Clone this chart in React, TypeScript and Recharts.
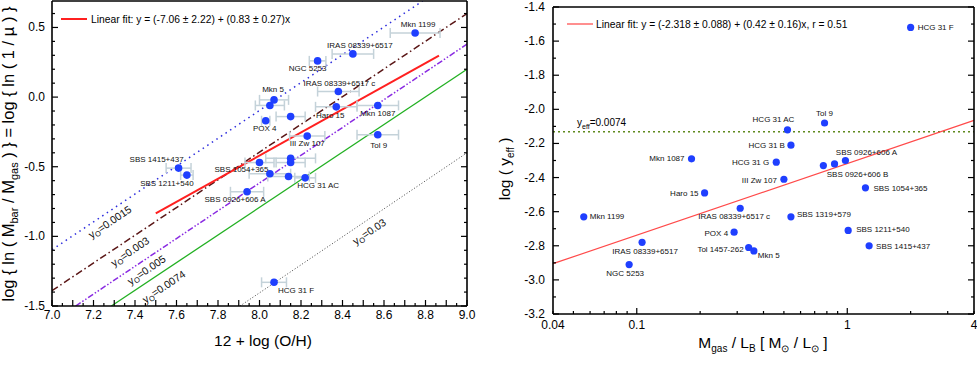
import React from 'react';
import { ScatterChart, Scatter, XAxis, YAxis, ErrorBar, ReferenceLine, ReferenceDot } from 'recharts';

const FONT = '"Liberation Sans", Arial, Helvetica, sans-serif';
const BLUE = '#1f3fff';
const ERR = '#c4d2d9';

// ---- left panel: 12 + log(O/H) vs log ln(1/mu) ----
const leftNames = [
  'Mkn 1199', 'IRAS 08339+6517', 'NGC 5253', 'IRAS 08339+6517 c', 'Mkn 5', '', 'Haro 15', 'Mkn 1087',
  'POX 4', '', 'III Zw 107', 'Tol 9', 'SBS 1415+437', 'SBS 1211+540', 'SBS 1054+365', '', '', '', '',
  'HCG 31 AC', 'SBS 0926+606 A', 'HCG 31 F',
];
const leftOH = [8.75, 8.45, 8.28, 8.38, 8.07, 8.05, 8.37, 8.57, 8.03, 8.15, 8.23, 8.57, 7.61, 7.65, 8.0, 8.15, 8.15, 8.05, 8.14, 8.22, 7.94, 8.07];
const leftLnMu = [0.46, 0.31, 0.26, 0.04, -0.02, -0.06, -0.07, -0.06, -0.17, -0.14, -0.28, -0.27, -0.51, -0.56, -0.47, -0.44, -0.47, -0.55, -0.57, -0.58, -0.68, -1.33];
const leftErr = [0.12, 0.1, 0.04, 0.1, 0.07, 0.07, 0.1, 0.1, 0.02, 0.07, 0.085, 0.1, 0.06, 0.03, 0.07, 0.12, 0.07, 0.1, 0.1, 0.05, 0.08, 0.06];

const leftFit = [{ x: 7.5, y: -0.835 }, { x: 8.865, y: 0.298 }];
const leftFitText = 'Linear fit: y = (-7.06 \u00b1 2.22) + (0.83 \u00b1 0.27)x';

// constant-yield lines y_O
const yOValues = ['0.0015', '0.003', '0.005', '0.0074', '0.03'];
const yOStart = [[7.0, -1.096], [7.0, -1.39], [7.114, -1.5], [7.286, -1.5], [7.906, -1.5]];
const yOEnd = [[8.786, 0.69], [9.0, 0.6], [9.0, 0.38], [9.0, 0.2], [9.0, -0.4]];

// ---- right panel: Mgas/LB vs log y_eff ----
const rightNames = [
  'Mkn 1087', 'HCG 31 F', 'Tol 9', 'HCG 31 AC', 'HCG 31 B', 'HCG 31 G', '', 'SBS 0926+606 B', 'SBS 0926+606 A',
  'III Zw 107', 'SBS 1054+365', 'IRAS 08339+6517 c', 'SBS 1319+579', 'POX 4', 'SBS 1211+540', 'Tol 1457-262',
  'Mkn 5', 'SBS 1415+437', 'Haro 15', 'Mkn 1199', 'IRAS 08339+6517', 'NGC 5253',
];
const rightMgasLB = [0.182, 2.0, 0.78, 0.52, 0.54, 0.46, 0.77, 0.87, 0.98, 0.5, 1.22, 0.31, 0.54, 0.29, 1.01, 0.34, 0.36, 1.27, 0.21, 0.056, 0.106, 0.092];
const rightLogY = [-2.29, -1.52, -2.08, -2.12, -2.21, -2.31, -2.33, -2.32, -2.3, -2.41, -2.46, -2.58, -2.63, -2.72, -2.71, -2.81, -2.83, -2.8, -2.49, -2.63, -2.78, -2.91];

const rightFit = [{ x: 0.04, y: -2.905 }, { x: 4, y: -2.065 }];
const rightFitText = 'Linear fit: y = (-2.318 \u00b1 0.088) + (0.42 \u00b1 0.16)x, r = 0.51';
const yEffLevel = -2.1308;

// ---- ticks ----
const steps = (a: number, b: number, s: number) => {
  const out: number[] = [];
  for (let v = a; v <= b + 1e-9; v += s) out.push(Math.round(v * 1000) / 1000);
  return out;
};
const leftXTicks = steps(7, 9, 0.05);
const leftXMajor = steps(7, 9, 0.1);
const leftXLabels = steps(7, 9, 0.2);
const leftYTicks = steps(-1.5, 0.6, 0.1);
const leftYLabels = [-1.5, -1.0, -0.5, 0.0, 0.5];
const rightYTicks = steps(-3.2, -1.4, 0.1);
const rightYLabels = steps(-3.2, -1.4, 0.2);
const rightXTicks = [0.04, 0.05, 0.06, 0.07, 0.08, 0.09, 0.1, 0.2, 0.3, 0.4, 0.5, 0.6, 0.7, 0.8, 0.9, 1, 2, 3, 4];
const rightXLabels = [0.04, 0.1, 1, 4];

const leftPoints = leftNames.map((name, i) => ({ name, x: leftOH[i], y: leftLnMu[i], ex: leftErr[i] }));
const rightPoints = rightNames.map((name, i) => ({ name, x: rightMgasLB[i], y: rightLogY[i] }));

// label placement: [dx, dy, anchor]
type Place = [number, number, 'start' | 'middle' | 'end'];
const leftPlace: Record<string, Place> = {
  'Mkn 1199': [3, -9, 'middle'],
  'IRAS 08339+6517': [7, -8, 'middle'],
  'NGC 5253': [-10, 8, 'middle'],
  'IRAS 08339+6517 c': [1, -8, 'middle'],
  'Mkn 5': [-1, -10, 'middle'],
  'Haro 15': [-6, 9, 'middle'],
  'Mkn 1087': [0, 8, 'middle'],
  'POX 4': [-1, 8, 'middle'],
  'III Zw 107': [0, 7, 'middle'],
  'Tol 9': [1, 11, 'middle'],
  'SBS 1415+437': [-22, -9, 'middle'],
  'SBS 1211+540': [-20, 8, 'middle'],
  'SBS 1054+365': [-18, 7, 'middle'],
  'HCG 31 AC': [13, 8, 'middle'],
  'SBS 0926+606 A': [-12, 8, 'middle'],
  'HCG 31 F': [22, 8, 'middle'],
};
const rightPlace: Record<string, Place> = {
  'Mkn 1087': [-7, 0, 'end'],
  'HCG 31 F': [7, 0, 'start'],
  'Tol 9': [0, -9, 'middle'],
  'HCG 31 AC': [-14, -10, 'middle'],
  'HCG 31 B': [-6, 0, 'end'],
  'HCG 31 G': [-7, 0, 'end'],
  'SBS 0926+606 A': [21, -8, 'middle'],
  'SBS 0926+606 B': [23, 11, 'middle'],
  'III Zw 107': [-7, 1, 'end'],
  'SBS 1054+365': [8, 1, 'start'],
  'IRAS 08339+6517 c': [-6, 8, 'middle'],
  'SBS 1319+579': [6, -2, 'start'],
  'POX 4': [-6, 1, 'end'],
  'SBS 1211+540': [8, -1, 'start'],
  'Tol 1457-262': [-5, 2, 'end'],
  'Mkn 5': [4, 5, 'start'],
  'SBS 1415+437': [7, 1, 'start'],
  'Haro 15': [-6, 1, 'end'],
  'Mkn 1199': [6, 0, 'start'],
  'IRAS 08339+6517': [3, 9, 'middle'],
  'NGC 5253': [-4, 9, 'middle'],
};
// where the slanted y_O labels sit (data coords)
const yOLabelAt = [[7.278, -0.895], [7.375, -1.108], [7.455, -1.239], [7.538, -1.359], [8.528, -0.964]];
const yOStyle = [
  { stroke: '#2b2bdd', strokeDasharray: '1.5 4', strokeWidth: 1.5 },
  { stroke: '#5a1616', strokeDasharray: '7 3 1.5 3', strokeWidth: 1.5 },
  { stroke: '#8a2be2', strokeDasharray: '6 2 1.5 2 1.5 2', strokeWidth: 1.5 },
  { stroke: '#22b022', strokeDasharray: undefined, strokeWidth: 1.3 },
  { stroke: '#444', strokeDasharray: '1 2', strokeWidth: 1 },
];

// ---- layout ----
interface Frame { x0: number; x1: number; y0: number; y1: number }
const LW = 490, LH = 365;
const lMargin = { top: 0, right: 22, bottom: 29, left: 12 };
const lFrame: Frame = { x0: 52, x1: LW - 23, y0: 1, y1: LH - 59 };
const RW = 487, RH = 365;
const rMargin = { top: 6, right: 2, bottom: 21, left: 13 };
const rFrame: Frame = { x0: 63, x1: RW - 3, y0: 7, y1: RH - 51 };

const near = (v: number, list: number[]) => list.some((b) => Math.abs(b - v) < 1e-6);
const tickText = { fontFamily: FONT, fontSize: 12, fill: '#000' };
const axisLine = { stroke: '#000', strokeWidth: 1.6 };

const makeTick = (side: 'bottom' | 'top' | 'left' | 'right', f: Frame, majors: number[], labelled: number[], fmt: (v: number) => string, gap: number) =>
  (props: any) => {
    const { x, y, payload } = props;
    const v = Number(payload.value);
    const len = near(v, majors) ? 6 : 3;
    const lab = near(v, labelled) ? fmt(v) : '';
    const ln = { stroke: '#000', strokeWidth: 1.2 };
    if (side === 'bottom') {
      return (
        <g>
          <line x1={x} x2={x} y1={f.y1} y2={f.y1 - len} {...ln} />
          {lab && <text x={x} y={f.y1 + gap + 9} textAnchor="middle" style={tickText}>{lab}</text>}
        </g>
      );
    }
    if (side === 'top') return <line x1={x} x2={x} y1={f.y0} y2={f.y0 + len} {...ln} />;
    if (side === 'left') {
      return (
        <g>
          <line x1={f.x0} x2={f.x0 + len} y1={y} y2={y} {...ln} />
          {lab && <text x={f.x0 - gap} y={y + 4} textAnchor="end" style={tickText}>{lab}</text>}
        </g>
      );
    }
    return <line x1={f.x1} x2={f.x1 - len} y1={y} y2={y} {...ln} />;
  };

const pointShape = (place: Record<string, Place>, r: number) => (props: any) => {
  const { cx, cy, payload } = props;
  const p = place[payload.name];
  return (
    <g>
      <circle cx={cx} cy={cy} r={r} fill={BLUE} />
      {p && (
        <text x={cx + p[0]} y={cy + p[1]} textAnchor={p[2]} dominantBaseline="central"
          style={{ fontFamily: FONT, fontSize: 8, fill: '#111' }}>
          {payload.name}
        </text>
      )}
    </g>
  );
};

const SlantLabel = ({ cx, cy, value }: { cx: number; cy: number; value: string }) => (
  <text x={cx} y={cy} textAnchor="middle" dominantBaseline="central" transform={`rotate(-34 ${cx} ${cy})`}
    style={{ fontFamily: FONT, fontSize: 10.5, fill: '#111' }}>
    y<tspan dy={3} fontSize={7.5}>O</tspan><tspan dy={-3}>=0.{value.slice(2)}</tspan>
  </text>
);

const fmt1 = (v: number) => v.toFixed(1);

const LeftPanel = () => (
  <ScatterChart width={LW} height={LH} margin={lMargin}>
    <XAxis xAxisId="b" type="number" dataKey="x" domain={[7, 9]} allowDataOverflow ticks={leftXTicks} interval={0}
      height={30} tickSize={0} tickLine={false} axisLine={axisLine} tick={makeTick('bottom', lFrame, leftXMajor, leftXLabels, fmt1, 4)} />
    <XAxis xAxisId="t" orientation="top" type="number" domain={[7, 9]} allowDataOverflow ticks={leftXTicks} interval={0}
      height={1} tickSize={0} tickLine={false} axisLine={axisLine} tick={makeTick('top', lFrame, leftXMajor, [], fmt1, 0)} />
    <YAxis yAxisId="l" type="number" dataKey="y" domain={[-1.5, 0.69]} allowDataOverflow ticks={leftYTicks} interval={0}
      width={40} tickSize={0} tickLine={false} axisLine={axisLine} tick={makeTick('left', lFrame, leftYLabels, leftYLabels, fmt1, 7)} />
    <YAxis yAxisId="r" orientation="right" type="number" domain={[-1.5, 0.69]} allowDataOverflow ticks={leftYTicks} interval={0}
      width={1} tickSize={0} tickLine={false} axisLine={axisLine} tick={makeTick('right', lFrame, leftYLabels, [], fmt1, 0)} />

    {yOValues.map((v, i) => (
      <ReferenceLine key={'l' + v} xAxisId="b" yAxisId="l" ifOverflow="hidden"
        segment={[{ x: yOStart[i][0], y: yOStart[i][1] }, { x: yOEnd[i][0], y: yOEnd[i][1] }]}
        {...yOStyle[i]} />
    ))}
    <ReferenceLine xAxisId="b" yAxisId="l" segment={leftFit} stroke="#ff2020" strokeWidth={2} />
    {yOValues.map((v, i) => (
      <ReferenceDot key={'t' + v} xAxisId="b" yAxisId="l" x={yOLabelAt[i][0]} y={yOLabelAt[i][1]} r={0}
        shape={(p: any) => <SlantLabel cx={p.cx} cy={p.cy} value={v} />} />
    ))}

    <Scatter data={leftPoints} xAxisId="b" yAxisId="l" isAnimationActive={false} shape={pointShape(leftPlace, 3.8)}>
      <ErrorBar dataKey="ex" direction="x" width={5} stroke={ERR} strokeWidth={1.5} />
    </Scatter>

    <line x1={61} x2={87} y1={19} y2={19} stroke="#ff2020" strokeWidth={2} />
    <text x={91} y={19} dominantBaseline="central" style={{ fontFamily: FONT, fontSize: 10.3, fill: '#000' }}>{leftFitText}</text>

    <text x={263} y={346} textAnchor="middle" style={{ fontFamily: FONT, fontSize: 15.5, fill: '#000' }}>12 + log (O/H)</text>
    <text x={14} y={154} textAnchor="middle" transform="rotate(-90 14 154)" style={{ fontFamily: FONT, fontSize: 16.5, fill: '#000' }}>
      log {'{'} ln ( M<tspan dy={4} fontSize={11}>bar</tspan><tspan dy={-4}> / M</tspan>
      <tspan dy={4} fontSize={11}>gas</tspan><tspan dy={-4}> ) {'}'} = log {'{'} ln ( 1 / {'\u00b5'} ) {'}'}</tspan>
    </text>
  </ScatterChart>
);

const logFmt = (v: number) => String(v);

const RightPanel = () => (
  <ScatterChart width={RW} height={RH} margin={rMargin}>
    <XAxis xAxisId="b" type="number" scale="log" dataKey="x" domain={[0.04, 4]} allowDataOverflow ticks={rightXTicks} interval={0}
      height={30} tickSize={0} tickLine={false} axisLine={axisLine} tick={makeTick('bottom', rFrame, [0.1, 1], rightXLabels, logFmt, 6)} />
    <XAxis xAxisId="t" orientation="top" type="number" scale="log" domain={[0.04, 4]} allowDataOverflow ticks={rightXTicks} interval={0}
      height={1} tickSize={0} tickLine={false} axisLine={axisLine} tick={makeTick('top', rFrame, [0.1, 1], [], logFmt, 0)} />
    <YAxis yAxisId="l" type="number" dataKey="y" domain={[-3.2, -1.4]} allowDataOverflow ticks={rightYTicks} interval={0}
      width={50} tickSize={0} tickLine={false} axisLine={axisLine} tick={makeTick('left', rFrame, rightYLabels, rightYLabels, fmt1, 8)} />
    <YAxis yAxisId="r" orientation="right" type="number" domain={[-3.2, -1.4]} allowDataOverflow ticks={rightYTicks} interval={0}
      width={1} tickSize={0} tickLine={false} axisLine={axisLine} tick={makeTick('right', rFrame, rightYLabels, [], fmt1, 0)} />

    <ReferenceLine xAxisId="b" yAxisId="l" y={yEffLevel} stroke="#5f8a1e" strokeWidth={1.5} strokeDasharray="2 3" />
    <ReferenceDot xAxisId="b" yAxisId="l" x={0.052} y={yEffLevel} r={0}
      shape={(p: any) => (
        <text x={p.cx} y={p.cy - 6} style={{ fontFamily: FONT, fontSize: 10, fill: '#000' }}>
          y<tspan dy={3} fontSize={7}>eff</tspan><tspan dy={-3}>=0.0074</tspan>
        </text>
      )} />
    <ReferenceLine xAxisId="b" yAxisId="l" segment={rightFit} stroke="#ff4a4a" strokeWidth={1.2} />

    <Scatter data={rightPoints} xAxisId="b" yAxisId="l" isAnimationActive={false} shape={pointShape(rightPlace, 3.6)} />

    <line x1={77} x2={103} y1={24} y2={24} stroke="#ff6a6a" strokeWidth={1.5} />
    <text x={106} y={24} dominantBaseline="central" style={{ fontFamily: FONT, fontSize: 10.3, fill: '#000' }}>{rightFitText}</text>

    <text x={273} y={348} textAnchor="middle" style={{ fontFamily: FONT, fontSize: 15.5, fill: '#000' }}>
      M<tspan dy={4} fontSize={10}>gas</tspan><tspan dy={-4}> / L</tspan><tspan dy={4} fontSize={10}>B</tspan>
      <tspan dy={-4}>  [ M</tspan><tspan dy={4} fontSize={10}>{'\u2299'}</tspan><tspan dy={-4}> / L</tspan>
      <tspan dy={4} fontSize={10}>{'\u2299'}</tspan><tspan dy={-4}> ]</tspan>
    </text>
    <text x={20} y={169} textAnchor="middle" transform="rotate(-90 20 169)" style={{ fontFamily: FONT, fontSize: 15.5, fill: '#000' }}>
      log ( y<tspan dy={4} fontSize={10}>eff</tspan><tspan dy={-4}> )</tspan>
    </text>
  </ScatterChart>
);

export default function App() {
  return (
    <div style={{ position: 'absolute', left: 0, top: 0, width: 977, height: 365, background: '#fff' }}>
      <div style={{ position: 'absolute', left: 0, top: 0 }}>
        <LeftPanel />
      </div>
      <div style={{ position: 'absolute', left: 490, top: 0 }}>
        <RightPanel />
      </div>
    </div>
  );
}
